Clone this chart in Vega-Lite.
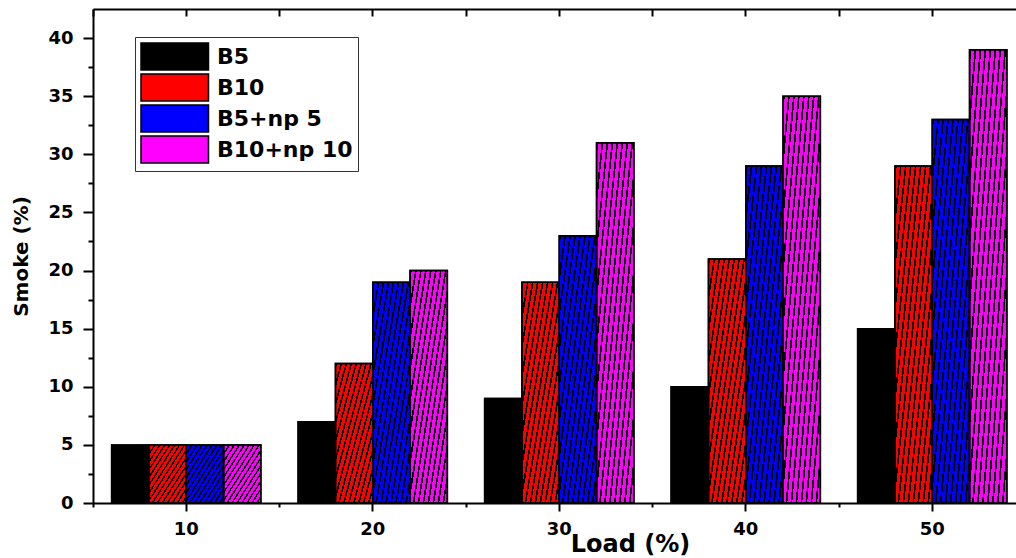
{
  "$schema": "https://vega.github.io/schema/vega-lite/v6.json",
  "autosize": "none",
  "padding": {"left": 93, "top": 9, "right": 0, "bottom": 55},
  "width": 923,
  "height": 494,
  "background": "white",
  "config": {"view": {"stroke": null}},
  "data": {"values": [
    {"Load": "10", "Sample": "B5", "Smoke": 5},
    {"Load": "10", "Sample": "B10", "Smoke": 5},
    {"Load": "10", "Sample": "B5+np 5", "Smoke": 5},
    {"Load": "10", "Sample": "B10+np 10", "Smoke": 5},
    {"Load": "20", "Sample": "B5", "Smoke": 7},
    {"Load": "20", "Sample": "B10", "Smoke": 12},
    {"Load": "20", "Sample": "B5+np 5", "Smoke": 19},
    {"Load": "20", "Sample": "B10+np 10", "Smoke": 20},
    {"Load": "30", "Sample": "B5", "Smoke": 9},
    {"Load": "30", "Sample": "B10", "Smoke": 19},
    {"Load": "30", "Sample": "B5+np 5", "Smoke": 23},
    {"Load": "30", "Sample": "B10+np 10", "Smoke": 31},
    {"Load": "40", "Sample": "B5", "Smoke": 10},
    {"Load": "40", "Sample": "B10", "Smoke": 21},
    {"Load": "40", "Sample": "B5+np 5", "Smoke": 29},
    {"Load": "40", "Sample": "B10+np 10", "Smoke": 35},
    {"Load": "50", "Sample": "B5", "Smoke": 15},
    {"Load": "50", "Sample": "B10", "Smoke": 29},
    {"Load": "50", "Sample": "B5+np 5", "Smoke": 33},
    {"Load": "50", "Sample": "B10+np 10", "Smoke": 39}
  ]},
  "resolve": {"axis": {"x": "independent", "y": "independent"}},
  "layer": [
    {
      "mark": {"type": "bar", "stroke": "#000", "strokeWidth": 1.5},
      "encoding": {
        "x": {
          "field": "Load", "type": "ordinal",
          "scale": {"type": "band", "range": [0, 932.5], "paddingInner": 0, "paddingOuter": 0},
          "axis": {
            "orient": "bottom", "title": "Load (%)", "labelAngle": 0,
            "labelFont": "DejaVu Sans", "labelFontWeight": "bold", "labelFontSize": 18, "labelColor": "#000", "labelPadding": 9,
            "tickSize": 8, "tickWidth": 2, "tickColor": "#000",
            "domainColor": "#000", "domainWidth": 2, "grid": false,
            "titleFont": "DejaVu Sans", "titleFontWeight": "bold", "titleFontSize": 24, "titleColor": "#000",
            "titleX": 537, "titleY": 48, "titleBaseline": "alphabetic", "titleAlign": "center"
          }
        },
        "xOffset": {
          "field": "Sample", "type": "nominal",
          "sort": ["B5", "B10", "B5+np 5", "B10+np 10"],
          "scale": {"paddingInner": 0, "paddingOuter": 0.5}
        },
        "y": {
          "field": "Smoke", "type": "quantitative",
          "scale": {"domain": [0, 42.5], "nice": false, "zero": true},
          "axis": {
            "orient": "left", "title": "Smoke (%)",
            "values": [0, 2.5, 5, 7.5, 10, 12.5, 15, 17.5, 20, 22.5, 25, 27.5, 30, 32.5, 35, 37.5, 40],
            "labelExpr": "datum.value % 5 === 0 ? format(datum.value, 'd') : ''",
            "labelFont": "DejaVu Sans", "labelFontWeight": "bold", "labelFontSize": 18, "labelColor": "#000", "labelPadding": 10,
            "tickSize": {"condition": {"test": "datum.value % 5 === 0", "value": 10}, "value": 5},
            "tickWidth": 2, "tickColor": "#000",
            "domainColor": "#000", "domainWidth": 2, "grid": false,
            "titleFont": "DejaVu Sans", "titleFontWeight": "bold", "titleFontSize": 20, "titleColor": "#000",
            "titleX": -66, "titleY": 247, "titleAngle": -90, "titleBaseline": "alphabetic", "titleAlign": "center"
          }
        },
        "color": {
          "field": "Sample", "type": "nominal",
          "sort": ["B5", "B10", "B5+np 5", "B10+np 10"],
          "scale": {"domain": ["B5", "B10", "B5+np 5", "B10+np 10"], "range": ["#000000", "#ff0000", "#0000ff", "#ff00ff"]},
          "legend": {
            "title": null, "orient": "none", "legendX": 42, "legendY": 28,
            "padding": 5, "strokeColor": "#333", "fillColor": "white",
            "symbolType": "M-1,-1H4V1H-1Z", "symbolSize": 729,
            "symbolStrokeColor": "#000", "symbolStrokeWidth": 1.5, "symbolOpacity": 1,
            "labelFont": "DejaVu Sans", "labelFontWeight": "bold", "labelFontSize": 22, "labelColor": "#000",
            "labelOffset": 48, "rowPadding": -4
          }
        }
      }
    },
    {
      "mark": {
        "type": "bar", "stroke": "#000", "strokeWidth": 1.5,
        "fill": {
          "gradient": "linear", "x1": 0, "y1": 0, "x2": 1, "y2": 1,
          "stops": [
            {"offset": 0, "color": "#000"}, {"offset": 0.0233, "color": "#000"}, {"offset": 0.0233, "color": "rgba(0,0,0,0)"}, {"offset": 0.0667, "color": "rgba(0,0,0,0)"},
            {"offset": 0.0667, "color": "#000"}, {"offset": 0.09, "color": "#000"}, {"offset": 0.09, "color": "rgba(0,0,0,0)"}, {"offset": 0.1333, "color": "rgba(0,0,0,0)"},
            {"offset": 0.1333, "color": "#000"}, {"offset": 0.1567, "color": "#000"}, {"offset": 0.1567, "color": "rgba(0,0,0,0)"}, {"offset": 0.2, "color": "rgba(0,0,0,0)"},
            {"offset": 0.2, "color": "#000"}, {"offset": 0.2233, "color": "#000"}, {"offset": 0.2233, "color": "rgba(0,0,0,0)"}, {"offset": 0.2667, "color": "rgba(0,0,0,0)"},
            {"offset": 0.2667, "color": "#000"}, {"offset": 0.29, "color": "#000"}, {"offset": 0.29, "color": "rgba(0,0,0,0)"}, {"offset": 0.3333, "color": "rgba(0,0,0,0)"},
            {"offset": 0.3333, "color": "#000"}, {"offset": 0.3567, "color": "#000"}, {"offset": 0.3567, "color": "rgba(0,0,0,0)"}, {"offset": 0.4, "color": "rgba(0,0,0,0)"},
            {"offset": 0.4, "color": "#000"}, {"offset": 0.4233, "color": "#000"}, {"offset": 0.4233, "color": "rgba(0,0,0,0)"}, {"offset": 0.4667, "color": "rgba(0,0,0,0)"},
            {"offset": 0.4667, "color": "#000"}, {"offset": 0.49, "color": "#000"}, {"offset": 0.49, "color": "rgba(0,0,0,0)"}, {"offset": 0.5333, "color": "rgba(0,0,0,0)"},
            {"offset": 0.5333, "color": "#000"}, {"offset": 0.5567, "color": "#000"}, {"offset": 0.5567, "color": "rgba(0,0,0,0)"}, {"offset": 0.6, "color": "rgba(0,0,0,0)"},
            {"offset": 0.6, "color": "#000"}, {"offset": 0.6233, "color": "#000"}, {"offset": 0.6233, "color": "rgba(0,0,0,0)"}, {"offset": 0.6667, "color": "rgba(0,0,0,0)"},
            {"offset": 0.6667, "color": "#000"}, {"offset": 0.69, "color": "#000"}, {"offset": 0.69, "color": "rgba(0,0,0,0)"}, {"offset": 0.7333, "color": "rgba(0,0,0,0)"},
            {"offset": 0.7333, "color": "#000"}, {"offset": 0.7567, "color": "#000"}, {"offset": 0.7567, "color": "rgba(0,0,0,0)"}, {"offset": 0.8, "color": "rgba(0,0,0,0)"},
            {"offset": 0.8, "color": "#000"}, {"offset": 0.8233, "color": "#000"}, {"offset": 0.8233, "color": "rgba(0,0,0,0)"}, {"offset": 0.8667, "color": "rgba(0,0,0,0)"},
            {"offset": 0.8667, "color": "#000"}, {"offset": 0.89, "color": "#000"}, {"offset": 0.89, "color": "rgba(0,0,0,0)"}, {"offset": 0.9333, "color": "rgba(0,0,0,0)"},
            {"offset": 0.9333, "color": "#000"}, {"offset": 0.9567, "color": "#000"}, {"offset": 0.9567, "color": "rgba(0,0,0,0)"}, {"offset": 1, "color": "rgba(0,0,0,0)"}
          ]
        }
      },
      "encoding": {
        "x": {"field": "Load", "type": "ordinal", "axis": null},
        "xOffset": {"field": "Sample", "type": "nominal", "sort": ["B5", "B10", "B5+np 5", "B10+np 10"]},
        "y": {"field": "Smoke", "type": "quantitative", "axis": null}
      }
    },
    {
      "mark": {"type": "bar", "opacity": 0},
      "encoding": {
        "x": {"field": "Load", "type": "ordinal",
          "axis": {"orient": "bottom", "bandPosition": 0, "labels": false, "tickSize": 4, "tickWidth": 2, "tickColor": "#000", "domain": false, "title": null, "grid": false}}
      }
    },
    {
      "mark": {"type": "bar", "opacity": 0},
      "encoding": {
        "x": {"field": "Load", "type": "ordinal",
          "axis": {"orient": "top", "labels": false, "tickSize": -7, "tickWidth": 2, "tickColor": "#000", "domain": true, "domainColor": "#000", "domainWidth": 2, "title": null, "grid": false}}
      }
    },
    {
      "mark": {"type": "bar", "opacity": 0},
      "encoding": {
        "x": {"field": "Load", "type": "ordinal",
          "axis": {"orient": "top", "bandPosition": 0, "labels": false, "tickSize": -7, "tickWidth": 2, "tickColor": "#000", "domain": false, "title": null, "grid": false}}
      }
    }
  ]
}
